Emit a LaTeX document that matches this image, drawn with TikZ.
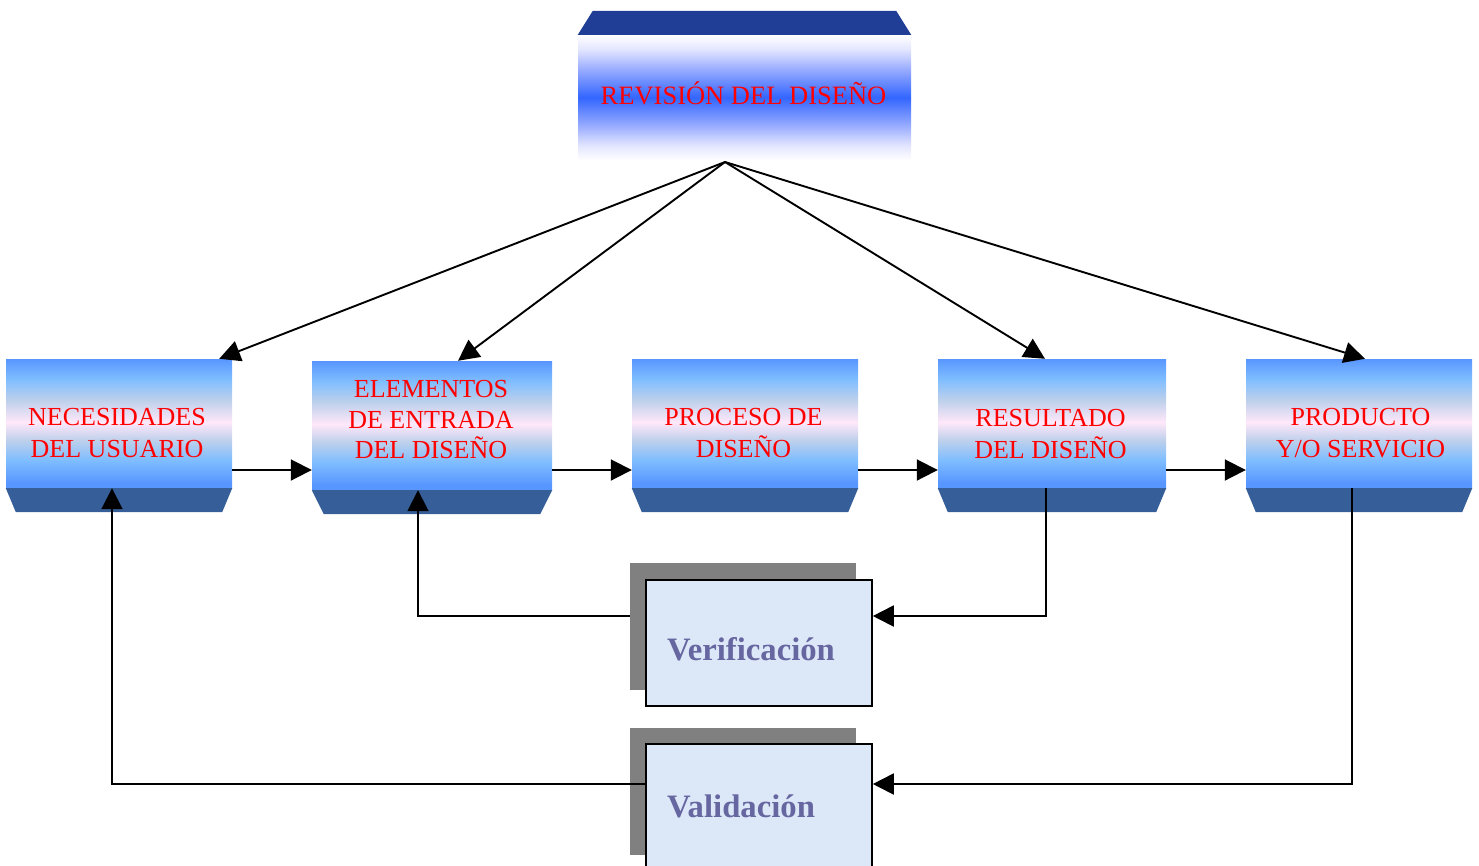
\documentclass[tikz,border=0pt]{standalone}
\usepackage{fontspec}
\setmainfont{Liberation Serif}
\usetikzlibrary{arrows.meta,calc}
\definecolor{bA}{RGB}{88,150,255}
\definecolor{bB}{RGB}{128,190,255}
\definecolor{bC}{RGB}{190,208,235}
\definecolor{bD}{RGB}{255,232,250}
\definecolor{tW}{RGB}{255,255,255}
\definecolor{tL}{RGB}{225,228,255}
\definecolor{tM}{RGB}{150,170,255}
\definecolor{tB}{RGB}{51,102,255}
\definecolor{bandcol}{RGB}{54,95,153}
\definecolor{topbandcol}{RGB}{32,62,150}
\definecolor{vfill}{RGB}{220,232,248}
\definecolor{vtext}{RGB}{102,102,160}
\definecolor{shadowgray}{RGB}{128,128,128}
\pgfdeclareverticalshading{lowshade}{100bp}{color(0bp)=(bA); color(27bp)=(bA); color(36bp)=(bB); color(43.5bp)=(bC); color(50.5bp)=(bD); color(59bp)=(bC); color(67bp)=(bB); color(75bp)=(bA); color(100bp)=(bA)}
\pgfdeclareverticalshading{topshade}{100bp}{color(0bp)=(tW); color(25bp)=(tW); color(31bp)=(tL); color(39bp)=(tM); color(50bp)=(tB); color(61bp)=(tM); color(69bp)=(tL); color(75bp)=(tW); color(100bp)=(tW)}
\tikzset{
  lowbox/.style={shade, shading=lowshade, minimum width=226pt, minimum height=129pt, inner sep=0pt},
  lbl/.style={text=red, align=center, font=\fontsize{26}{32}\selectfont, inner sep=0pt},
  arr/.style={line width=1.9pt, -{Triangle[length=21pt,width=21pt]}},
  shadowbox/.style={fill=shadowgray, minimum width=226pt, minimum height=127pt, inner sep=0pt},
  vbox/.style={fill=vfill, draw=black, line width=1.6pt, minimum width=226pt, minimum height=126pt, inner sep=0pt},
  vlbl/.style={text=vtext, font=\fontsize{32.7}{38}\selectfont\bfseries, inner sep=0pt, anchor=base}
}
\begin{document}
\begin{tikzpicture}[x=1pt,y=-1pt]
\useasboundingbox (0,0) rectangle (1479,865);
% top box
\node[shade, shading=topshade, minimum width=333pt, minimum height=125pt, inner sep=0pt] (rev) at (744.5,97.5) {};
\fill[topbandcol] (rev.north west) -- (rev.north east) -- ([shift={(-15pt,24pt)}]rev.north east) -- ([shift={(15pt,24pt)}]rev.north west) -- cycle;
\node[lbl, anchor=base, font=\fontsize{26.5}{32}\selectfont] (revt) at (743.5,104) {REVISIÓN DEL DISEÑO};
% lower boxes
\node[lowbox] (n1) at (119,423.5) {};
\node[lowbox, minimum width=240pt] (n2) at (432,425.5) {};
\node[lowbox] (n3) at (745,423.5) {};
\node[lowbox, minimum width=228pt] (n4) at (1052,423.5) {};
\node[lowbox] (n5) at (1359,423.5) {};
\foreach \n/\d in {n1/10,n2/12,n3/10,n4/10,n5/10}{
  \fill[bandcol] (\n.south west) -- (\n.south east) -- ([shift={(-\d pt,-24pt)}]\n.south east) -- ([shift={(\d pt,-24pt)}]\n.south west) -- cycle;
}
\node[lbl] (t1) at (117,433) {NECESIDADES\\DEL USUARIO};
\node[lbl, font=\fontsize{26}{30.5}\selectfont] (t2) at (431,420) {ELEMENTOS\\DE ENTRADA\\DEL DISEÑO};
\node[lbl] (t3) at (743.5,433) {PROCESO DE\\DISEÑO};
\node[lbl] (t4) at (1050.5,434) {RESULTADO\\DEL DISEÑO};
\node[lbl] (t5) at (1360.5,433.5) {PRODUCTO\\Y/O SERVICIO};
% verification / validation
\node[shadowbox] (vs) at (743,626.5) {};
\node[vbox] (ver) at (759,643) {};
\node[vlbl] (vert) at (751,660) {Verificación};
\node[shadowbox] (vals) at (743,791) {};
\node[vbox] (val) at (759,807) {};
\node[vlbl] (valt) at (741,817) {Validación};
% connectors
\coordinate (hub) at (725,162);
\coordinate (hy) at (0,470);
\coordinate (vy) at (0,616);
\coordinate (ly) at (0,784);
\draw[arr] (hub) -- ([xshift=-13pt]n1.north east);
\draw[arr] (hub) -- ([xshift=26pt]n2.north);
\draw[arr] (hub) -- ([xshift=-7pt]n4.north);
\draw[arr] (hub) -- ([xshift=6pt]n5.north);
\draw[arr] (n1.east |- hy) -- (n2.west |- hy);
\draw[arr] (n2.east |- hy) -- (n3.west |- hy);
\draw[arr] (n3.east |- hy) -- (n4.west |- hy);
\draw[arr] (n4.east |- hy) -- (n5.west |- hy);
\draw[arr] ([xshift=-6pt]n4.south) |- (ver.east |- vy);
\draw[arr] (vs.west |- vy) -| ([xshift=-14pt]n2.south);
\draw[arr] ([xshift=-7pt]n5.south) |- (val.east |- ly);
\draw[arr] (val.west |- ly) -| ([xshift=-7pt]n1.south);
\end{tikzpicture}
\end{document}
